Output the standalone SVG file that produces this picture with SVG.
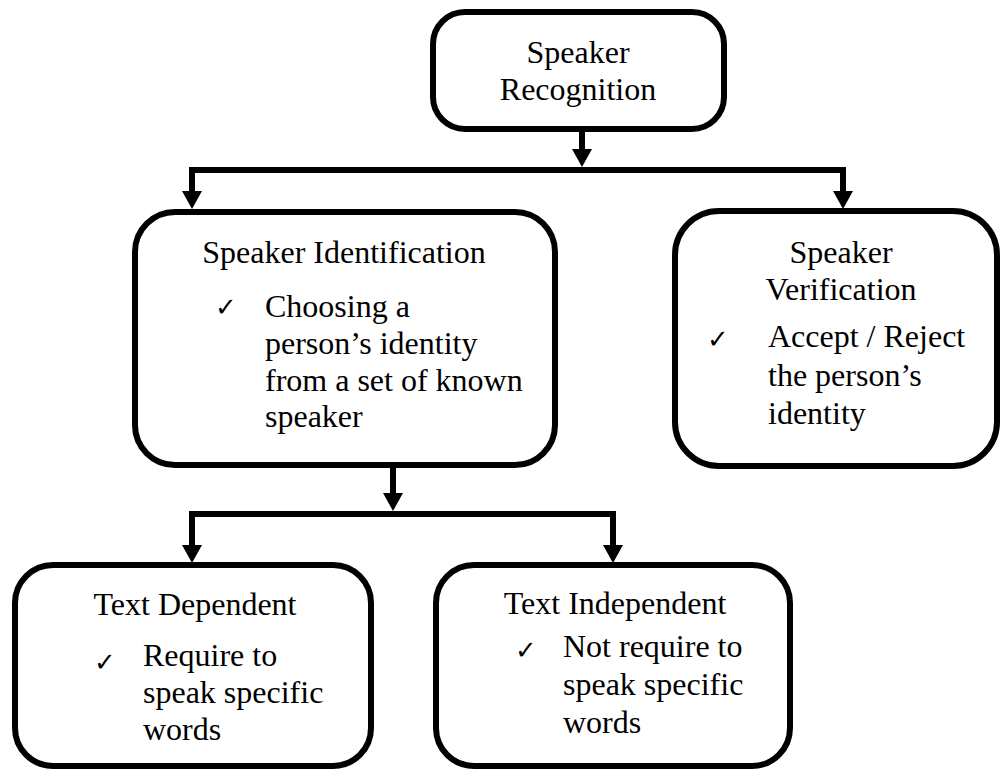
<svg xmlns="http://www.w3.org/2000/svg" width="1002" height="771" viewBox="0 0 1002 771">
  <style>
    .box { fill: #ffffff; stroke: #000000; stroke-width: 6; }
    .link { fill: none; stroke: #000000; stroke-width: 6; stroke-linejoin: miter; stroke-linecap: butt; }
    .t { font-family: "Liberation Serif", "Times New Roman", serif; font-size: 32px; fill: #000000; }
    .c { text-anchor: middle; }
    .tick { font-family: "DejaVu Sans", sans-serif; font-size: 26px; fill: #000000; }
  </style>
  <defs>
    <marker id="arrow" viewBox="0 0 18 20" refX="6" refY="10" markerWidth="18" markerHeight="20" markerUnits="userSpaceOnUse" orient="auto-start-reverse">
      <path d="M0,0 L18,10 L0,20 z" fill="#000000"/>
    </marker>
  </defs>
  <rect width="1002" height="771" fill="#ffffff"/>

  <!-- connectors -->
  <g id="connectors">
    <path class="link" d="M582,129 V155" marker-end="url(#arrow)"/>
    <path class="link" d="M192,197 V170 H843 V197" marker-start="url(#arrow)" marker-end="url(#arrow)"/>
    <path class="link" d="M393,465 V499" marker-end="url(#arrow)"/>
    <path class="link" d="M192,551 V514 H613 V551" marker-start="url(#arrow)" marker-end="url(#arrow)"/>
  </g>

  <!-- root -->
  <g id="speaker-recognition">
    <rect class="box" x="433" y="12" width="291" height="117" rx="32" ry="32"/>
    <text class="t c" x="578" y="63">Speaker</text>
    <text class="t c" x="578" y="100">Recognition</text>
  </g>

  <g id="speaker-identification">
    <rect class="box" x="135" y="212" width="420" height="253" rx="40" ry="40"/>
    <text class="t c" x="344" y="263">Speaker Identification</text>
    <text class="tick" x="215" y="316">✓</text>
    <text class="t" x="265" y="317">Choosing a</text>
    <text class="t" x="265" y="354">person’s identity</text>
    <text class="t" x="265" y="391">from a set of known</text>
    <text class="t" x="265" y="427">speaker</text>
  </g>

  <g id="speaker-verification">
    <rect class="box" x="675" y="211" width="322" height="255" rx="44" ry="44"/>
    <text class="t c" x="841" y="263">Speaker</text>
    <text class="t c" x="841" y="300">Verification</text>
    <text class="tick" x="707" y="348">✓</text>
    <text class="t" x="768" y="347">Accept / Reject</text>
    <text class="t" x="768" y="386">the person’s</text>
    <text class="t" x="768" y="424">identity</text>
  </g>

  <g id="text-dependent">
    <rect class="box" x="15" y="565" width="356" height="201" rx="38" ry="38"/>
    <text class="t c" x="195" y="615">Text Dependent</text>
    <text class="tick" x="94" y="671">✓</text>
    <text class="t" x="143" y="666">Require to</text>
    <text class="t" x="143" y="703">speak specific</text>
    <text class="t" x="143" y="740">words</text>
  </g>

  <g id="text-independent">
    <rect class="box" x="436" y="565" width="354" height="201" rx="38" ry="38"/>
    <text class="t c" x="615" y="614">Text Independent</text>
    <text class="tick" x="515" y="659">✓</text>
    <text class="t" x="563" y="657">Not require to</text>
    <text class="t" x="563" y="695">speak specific</text>
    <text class="t" x="563" y="733">words</text>
  </g>
</svg>
